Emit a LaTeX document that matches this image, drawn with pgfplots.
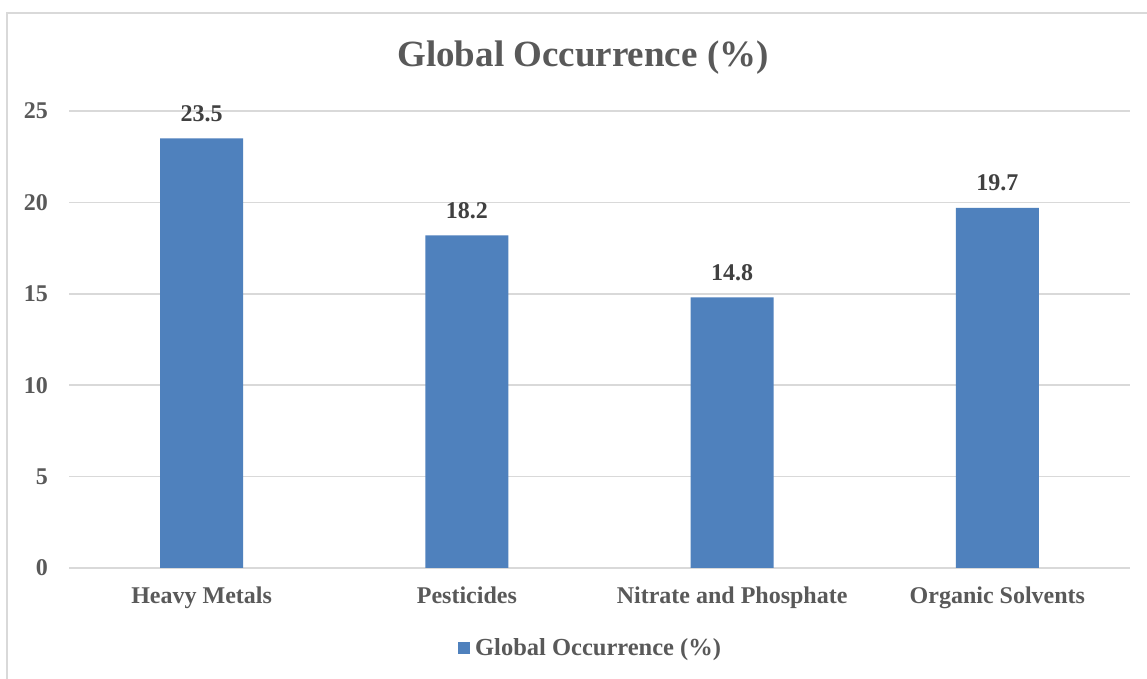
\documentclass[border=0pt]{standalone}
\usepackage{fontspec}
\setmainfont{Liberation Serif}
\usepackage{pgfplots}
\pgfplotsset{compat=1.18}
\definecolor{barblue}{HTML}{4F81BD}
\definecolor{txtgray}{HTML}{595959}
\definecolor{lblgray}{HTML}{404040}
\definecolor{gridgray}{HTML}{D9D9D9}

\begin{document}
\begin{tikzpicture}
\useasboundingbox (0,0) rectangle (1147bp,679bp);
\fill[white] (0,0) rectangle (1147bp,679bp);
% chart area border (top and left edges visible)
\draw[gridgray, line width=1.5bp] (7bp,0) -- (7bp,666bp) -- (1147bp,666bp);
% title
\node[anchor=base, text=txtgray, font=\fontsize{37bp}{41bp}\selectfont\bfseries]
  at (583bp,612bp) {Global Occurrence (\%)};
\begin{axis}[
    at={(69bp,111bp)}, anchor=south west,
    scale only axis,
    width=1061bp, height=457bp,
    ybar, bar width=83bp,
    xmin=-0.5, xmax=3.5,
    ymin=0, ymax=25,
    ytick={0,5,...,25},
    xtick=data,
    xticklabels={Heavy Metals,Pesticides,Nitrate and Phosphate,Organic Solvents},
    axis line style={draw=none},
    ymajorgrids,
    grid style={gridgray, line width=1.5bp},
    major tick length=0pt,
    tick style={draw=none},
    tick label style={text=txtgray, font=\fontsize{24bp}{27bp}\selectfont\bfseries},
    /pgf/number format/assume math mode=true,
    yticklabel style={inner sep=0pt, xshift=-21bp},
    xticklabel style={inner sep=0pt, anchor=north, yshift=-19bp},
    nodes near coords,
    nodes near coords style={text=lblgray, font=\fontsize{24bp}{27bp}\selectfont\bfseries,
      inner sep=0pt, anchor=base, yshift=17bp,
      /pgf/number format/fixed, /pgf/number format/precision=1,
      /pgf/number format/fixed zerofill},
    legend style={draw=none, fill=none, inner sep=0pt,
      at={(axis description cs:0.3666,-0.175)}, anchor=west,
      font=\fontsize{24.5bp}{27bp}\selectfont\bfseries, text=txtgray,
      nodes={inner sep=0pt}},
    legend image code/.code={\fill[barblue] (0bp,-6bp) rectangle (12bp,6bp); \path (17bp,0bp);},
    legend cell align=left,
]
\addplot[fill=barblue, draw=none] coordinates {(0,23.5) (1,18.2) (2,14.8) (3,19.7)};
\addlegendentry{Global Occurrence (\%)}
\end{axis}
\end{tikzpicture}
\end{document}
